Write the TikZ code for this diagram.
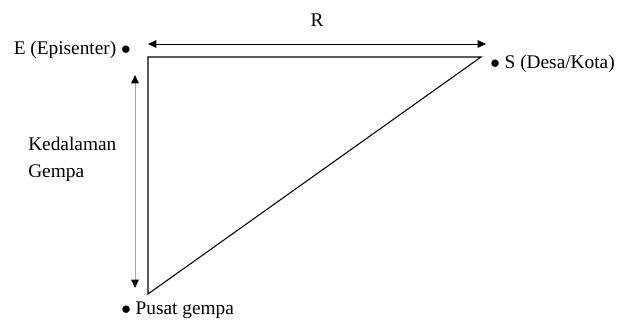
\documentclass[tikz,border=0pt]{standalone}
\usepackage{fontspec}
\setmainfont{Liberation Serif}
\usetikzlibrary{arrows.meta, positioning}
\tikzset{
  lbl/.style={inner sep=0pt, font=\fontsize{14.5}{20}\selectfont, align=left},
  side/.style={thick, black},
  dimarrow/.style={{Triangle[length=2.2mm,width=2mm,black]}-{Triangle[length=2.2mm,width=2mm,black]}, semithick},
}
\begin{document}
\begin{tikzpicture}[x=0.75pt, y=-0.75pt]
  \useasboundingbox (0,0) rectangle (619,324);
  % triangle corners
  \coordinate (E) at (148,57);
  \coordinate (S) at (481,57);
  \coordinate (P) at (148,294);
  \draw[side] (S) -- (E) -- (P) -- cycle;
  % dimension arrows
  \coordinate (Ra) at (148,44);
  \coordinate (Rb) at (486,44);
  \draw[dimarrow] (Ra) -- (Rb) node[midway, above=13pt, lbl] (R) {R};
  \coordinate (Da) at (135,75);
  \coordinate (Db) at (135,288);
  \draw[dimarrow, draw=gray!70] (Da) -- (Db);
  % labels
  \node[lbl, anchor=east] (epi) at (131,50) {E (Episenter) $\bullet$};
  \node[lbl, anchor=west] (desa) at (490,64) {$\bullet$ S (Desa/Kota)};
  \node[lbl, anchor=north west] (depth) at (28,137) {Kedalaman\\Gempa};
  \node[lbl, anchor=west] (pusat) at (121,310) {$\bullet$ Pusat gempa};
\end{tikzpicture}
\end{document}
